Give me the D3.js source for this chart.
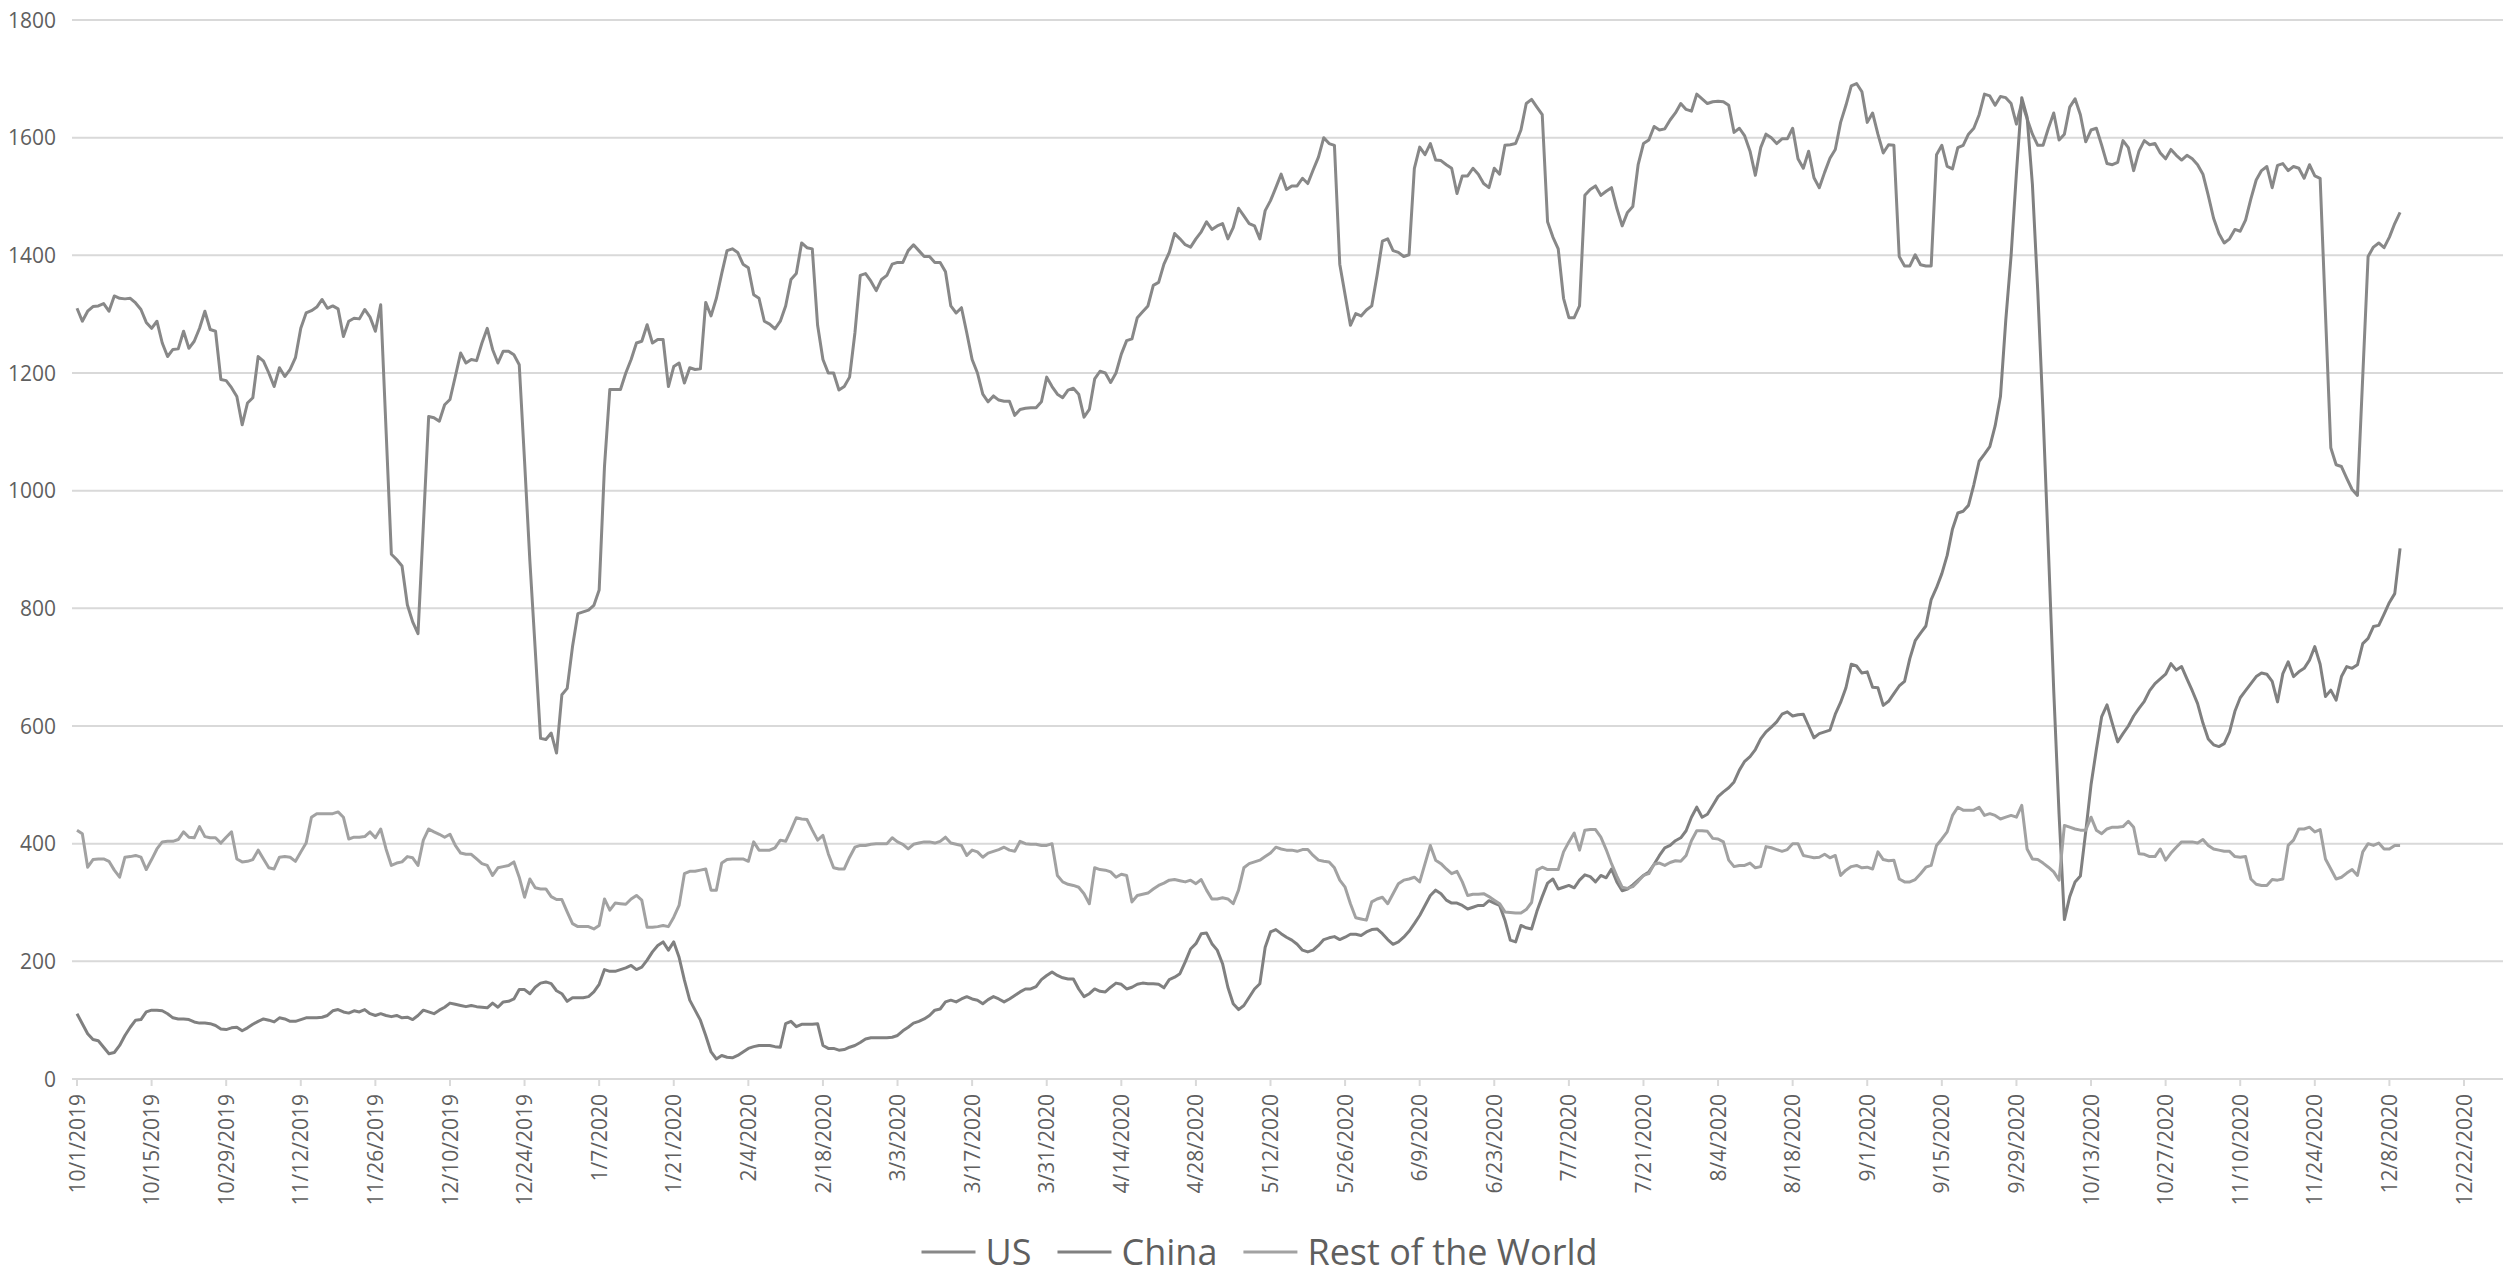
<!DOCTYPE html>
<html>
<head>
<meta charset="utf-8">
<script src="https://cdn.jsdelivr.net/npm/d3@7"></script>
<style>
  body { margin: 0; background: #fff; }
  text { font-family: 'Open Sans', sans-serif; fill: #5f5f5f; }
</style>
</head>
<body>
<script>
var width = 2519,
  height = 1284

// daily series, 10/1/2019 .. 12/10/2020
var firstDay = new Date(2019, 9, 1),
  lastDay = new Date(2020, 11, 10)

var seriesNames = ['US', 'China', 'Rest of the World']
var seriesColors = ['#888888', '#808080', '#a2a2a2']

var usValues = [
  1310, 1288, 1305, 1313, 1314, 1318, 1305,
  1331, 1327, 1326, 1327, 1319, 1308, 1286,
  1276, 1288, 1251, 1228, 1240, 1241, 1271,
  1242, 1254, 1276, 1305, 1274, 1271, 1189,
  1187, 1175, 1160, 1112, 1149, 1158, 1228,
  1220, 1200, 1177, 1209, 1194, 1206, 1226,
  1276, 1302, 1306, 1312, 1325, 1310, 1314,
  1309, 1262, 1288, 1293, 1292, 1308, 1295,
  1271, 1316, 1104, 892, 883, 872, 806,
  777, 757, 940, 1126, 1124, 1118, 1146,
  1155, 1194, 1234, 1217, 1223, 1221, 1251,
  1276, 1240, 1217, 1237, 1237, 1231, 1214,
  1050, 880, 730, 579, 577, 588, 554,
  653, 664, 735, 791, 794, 797, 805,
  831, 1041, 1172, 1172, 1172, 1200, 1223,
  1251, 1254, 1282, 1251, 1257, 1257, 1177,
  1211, 1217, 1183, 1209, 1206, 1207, 1320,
  1297, 1327, 1369, 1408, 1411, 1405, 1385,
  1379, 1333, 1327, 1288, 1283, 1275, 1288,
  1314, 1359, 1369, 1421, 1413, 1411, 1281,
  1223, 1200, 1200, 1171, 1177, 1193, 1268,
  1366, 1369, 1356, 1340, 1359, 1366, 1385,
  1388, 1388, 1408, 1418, 1408, 1398, 1398,
  1388, 1388, 1372, 1314, 1302, 1311, 1268,
  1223, 1200, 1164, 1151, 1161, 1154, 1152,
  1152, 1128, 1138, 1140, 1141, 1141, 1151,
  1193, 1177, 1164, 1158, 1171, 1174, 1164,
  1125, 1138, 1190, 1203, 1200, 1184, 1200,
  1232, 1255, 1258, 1294, 1304, 1314, 1349,
  1354, 1385, 1405, 1437, 1428, 1418, 1414,
  1428, 1440, 1457, 1444, 1450, 1454, 1428,
  1447, 1480, 1467, 1454, 1450, 1428, 1476,
  1493, 1515, 1538, 1512, 1518, 1518, 1531,
  1522, 1545, 1567, 1600, 1590, 1587, 1385,
  1333, 1281, 1301, 1297, 1307, 1314, 1366,
  1424, 1428, 1408, 1405, 1398, 1401, 1548,
  1584, 1571, 1590, 1562, 1561, 1554, 1548,
  1505, 1535, 1535, 1548, 1538, 1522, 1515,
  1548, 1538, 1587, 1588, 1590, 1613, 1658,
  1665, 1652, 1639, 1457, 1431, 1411, 1327,
  1294, 1294, 1314, 1502, 1512, 1518, 1502,
  1509, 1515, 1480, 1450, 1473, 1483, 1554,
  1590, 1596, 1619, 1613, 1615, 1630, 1642,
  1658, 1648, 1645, 1674, 1666, 1658, 1661,
  1662, 1661, 1655, 1609, 1616, 1603, 1577,
  1536, 1583, 1606, 1600, 1590, 1598, 1598,
  1616, 1564, 1548, 1577, 1532, 1515, 1541,
  1565, 1580, 1626, 1655, 1688, 1692, 1678,
  1626, 1642, 1606, 1574, 1588, 1587, 1398,
  1382, 1382, 1401, 1384, 1382, 1382, 1571,
  1587, 1551, 1547, 1583, 1587, 1606, 1616,
  1639, 1674, 1671, 1655, 1670, 1668, 1658,
  1623, 1660, 1632, 1606, 1587, 1587, 1616,
  1642, 1596, 1606, 1652, 1666, 1639, 1593,
  1613, 1616, 1587, 1556, 1554, 1558, 1595,
  1583, 1544, 1577, 1595, 1588, 1590, 1574,
  1564, 1580, 1570, 1562, 1570, 1564, 1554,
  1538, 1502, 1463, 1437, 1421, 1428, 1444,
  1441, 1460, 1496, 1528, 1544, 1551, 1515,
  1553, 1556, 1544, 1551, 1548, 1531, 1554,
  1535, 1531, 1301, 1073, 1044, 1041, 1021,
  1002, 992, 1195, 1398, 1414, 1421, 1413,
  1431, 1454, 1473
]

var chinaValues = [
  111, 94, 77, 67, 65, 54, 43,
  45, 57, 74, 88, 100, 101, 114,
  117, 117, 116, 111, 104, 102, 102,
  101, 97, 95, 95, 94, 91, 85,
  84, 87, 88, 82, 87, 93, 98,
  102, 100, 97, 104, 102, 98, 98,
  101, 104, 104, 104, 105, 108, 116,
  118, 114, 112, 116, 114, 118, 111,
  108, 111, 108, 106, 108, 104, 105,
  101, 108, 117, 114, 111, 117, 122,
  129, 127, 125, 123, 125, 123, 122,
  121, 129, 122, 131, 132, 136, 152,
  152, 145, 156, 163, 165, 162, 150,
  145, 132, 138, 138, 138, 140, 148,
  161, 186, 183, 183, 186, 189, 193,
  186, 190, 202, 216, 227, 233, 219,
  233, 207, 168, 134, 117, 100, 74,
  46, 34, 40, 37, 36, 40, 46,
  52, 55, 57, 57, 57, 55, 54,
  94, 98, 89, 93, 93, 93, 94,
  57, 52, 52, 49, 50, 54, 57,
  62, 68, 70, 70, 70, 70, 71,
  74, 82, 88, 95, 98, 102, 108,
  117, 119, 131, 134, 131, 136, 140,
  136, 134, 128, 135, 140, 136, 131,
  136, 142, 148, 153, 153, 157, 169,
  176, 182, 176, 172, 170, 170, 153,
  140, 145, 153, 149, 148, 156, 163,
  161, 153, 156, 161, 163, 162, 162,
  161, 155, 169, 173, 179, 199, 221,
  230, 247, 248, 230, 219, 196, 156,
  128, 118, 125, 139, 153, 162, 224,
  250, 254, 247, 241, 236, 229, 219,
  216, 219, 227, 237, 240, 242, 237,
  241, 246, 246, 244, 250, 254, 255,
  247, 237, 229, 233, 241, 251, 264,
  278, 295, 312, 321, 315, 304, 299,
  299, 295, 289, 292, 295, 295, 303,
  299, 295, 270, 236, 233, 261, 257,
  255, 285, 310, 333, 340, 323, 326,
  329, 325, 338, 347, 344, 335, 346,
  342, 357, 335, 320, 323, 330, 338,
  346, 352, 365, 380, 393, 397, 405,
  410, 422, 445, 462, 445, 450, 465,
  480, 488, 495, 505, 525, 540, 548,
  560, 578, 590, 598, 607, 620, 624,
  617, 619, 620, 600, 580, 587, 590,
  593, 620, 640, 665, 705, 702, 690,
  692, 666, 665, 635, 642, 655, 668,
  676, 715, 745, 758, 770, 815, 835,
  859, 890, 935, 962, 965, 975, 1010,
  1050, 1062, 1075, 1110, 1160, 1290, 1400,
  1540, 1668, 1635, 1520, 1340, 1130, 900,
  660, 450, 271, 310, 335, 345, 420,
  500, 560, 616, 636, 604, 573, 587,
  600, 617, 630, 642, 660, 672, 680,
  688, 706, 695, 701, 680, 660, 638,
  605, 578, 568, 565, 570, 590, 625,
  648, 660, 672, 684, 690, 688, 676,
  641, 689, 709, 684, 692, 698, 712,
  735, 705, 650, 661, 644, 684, 701,
  698, 704, 740, 749, 769, 771, 790,
  810, 825, 902
]

var restValues = [
  423, 417, 360, 373, 374, 374, 370,
  355, 343, 377, 378, 380, 377, 356,
  373, 391, 403, 404, 404, 407, 420,
  411, 410, 429, 412, 410, 410, 401,
  411, 420, 374, 369, 370, 373, 389,
  374, 359, 357, 377, 378, 377, 370,
  386, 401, 445, 451, 451, 451, 451,
  454, 445, 408, 411, 411, 412, 420,
  410, 425, 391, 363, 367, 369, 378,
  376, 363, 406, 425, 420, 416, 411,
  416, 397, 384, 382, 382, 374, 366,
  363, 346, 359, 361, 363, 369, 343,
  309, 340, 325, 323, 323, 310, 305,
  305, 284, 264, 259, 259, 259, 255,
  261, 306, 287, 299, 298, 297, 306,
  312, 304, 258, 258, 259, 261, 259,
  275, 295, 349, 353, 353, 355, 357,
  321, 321, 367, 373, 374, 374, 374,
  370, 403, 389, 389, 389, 393, 406,
  404, 423, 444, 442, 441, 423, 406,
  414, 383, 359, 357, 357, 377, 394,
  397, 397, 399, 400, 400, 400, 410,
  403, 399, 391, 399, 401, 403, 403,
  401, 404, 411, 401, 399, 397, 380,
  389, 386, 377, 384, 387, 390, 394,
  389, 387, 404, 400, 399, 399, 397,
  397, 400, 346, 335, 331, 329, 326,
  315, 298, 359, 356, 355, 352, 343,
  348, 346, 301, 312, 314, 316, 323,
  329, 333, 338, 339, 337, 335, 338,
  332, 339, 321, 306, 306, 308, 306,
  298, 321, 359, 366, 369, 372, 378,
  384, 394, 391, 389, 389, 387, 390,
  390, 380, 372, 370, 369, 359, 338,
  326, 298, 274, 272, 270, 301, 306,
  309, 298, 315, 332, 338, 340, 343,
  335, 366, 397, 372, 366, 357, 349,
  353, 335, 312, 314, 314, 315, 310,
  304, 298, 284, 283, 282, 282, 288,
  300, 355, 360, 356, 356, 356, 386,
  403, 418, 389, 423, 424, 424, 411,
  390, 366, 345, 326, 324, 327, 336,
  346, 349, 365, 367, 363, 368, 371,
  370, 380, 405, 422, 422, 421, 409,
  408, 403, 372, 361, 363, 363, 367,
  359, 361, 395, 393, 390, 387, 390,
  400, 400, 380, 378, 376, 377, 382,
  376, 380, 346, 355, 361, 363, 359,
  360, 357, 386, 373, 371, 372, 340,
  335, 335, 339, 349, 360, 363, 397,
  408, 420, 448, 462, 457, 457, 457,
  462, 448, 451, 448, 442, 445, 448,
  445, 465, 391, 374, 373, 367, 360,
  352, 338, 431, 428, 425, 423, 423,
  445, 423, 417, 425, 428, 428, 429,
  438, 428, 383, 382, 378, 378, 391,
  372, 384, 394, 403, 403, 403, 401,
  407, 397, 391, 389, 387, 387, 378,
  377, 378, 340, 331, 329, 329, 339,
  338, 340, 397, 406, 425, 425, 428,
  420, 424, 374, 357, 340, 343, 350,
  356, 346, 386, 400, 397, 401, 391,
  391, 397, 397
]

var yTicks = [0, 200, 400, 600, 800, 1000, 1200, 1400, 1600, 1800]
// date axis ticks every two weeks
var firstTick = new Date(2019, 9, 1),
  lastTick = new Date(2020, 11, 22)

var plotLeft = 72,
  plotRight = 2503

var dates = d3.timeDay.range(firstDay, d3.timeDay.offset(lastDay, 1))
var series = [usValues, chinaValues, restValues].map(function (values, i) {
  return {
    name: seriesNames[i],
    color: seriesColors[i],
    points: values.map(function (v, j) { return {date: dates[j], value: v} })
  }
})

var x = d3.scaleTime()
  .domain([firstTick, lastTick])
  .range([77, 2464])

var y = d3.scaleLinear()
  .domain([0, 1800])
  .range([1079, 20])

var svg = d3.select('body').append('svg')
  .attr('width', width)
  .attr('height', height)

svg.append('rect')
  .attr('width', width)
  .attr('height', height)
  .attr('fill', '#fff')

// horizontal gridlines
svg.append('g').selectAll('line')
  .data(yTicks)
  .enter().append('line')
  .attr('x1', plotLeft)
  .attr('x2', plotRight)
  .attr('y1', function (d) { return y(d) })
  .attr('y2', function (d) { return y(d) })
  .attr('stroke', '#d9d9d9')
  .attr('stroke-width', 2)

svg.append('g').selectAll('text')
  .data(yTicks)
  .enter().append('text')
  .attr('x', 56)
  .attr('y', function (d) { return y(d) })
  .attr('dy', '0.36em')
  .attr('text-anchor', 'end')
  .style('font-size', '21px')
  .text(function (d) { return d })

var xTicks = d3.timeDay.range(firstTick, d3.timeDay.offset(lastTick, 1), 14)
var fmt = d3.timeFormat('%-m/%-d/%Y')

var xAxis = svg.append('g')
xAxis.selectAll('line')
  .data(xTicks)
  .enter().append('line')
  .attr('x1', function (d) { return x(d) })
  .attr('x2', function (d) { return x(d) })
  .attr('y1', y(0))
  .attr('y2', y(0) + 7)
  .attr('stroke', '#d9d9d9')
  .attr('stroke-width', 2)

xAxis.selectAll('text')
  .data(xTicks)
  .enter().append('text')
  .attr('transform', function (d) { return 'translate(' + x(d) + ',1094) rotate(-90)' })
  .attr('dy', '0.36em')
  .attr('text-anchor', 'end')
  .style('font-size', '21px')
  .text(fmt)

var line = d3.line()
  .x(function (d) { return x(d.date) })
  .y(function (d) { return y(d.value) })

svg.append('g').selectAll('path')
  .data(series)
  .enter().append('path')
  .attr('d', function (d) { return line(d.points) })
  .attr('fill', 'none')
  .attr('stroke', function (d) { return d.color })
  .attr('stroke-width', 3)
  .attr('stroke-linejoin', 'round')

// legend, centred under the chart
var legend = svg.append('g')
var item = legend.selectAll('g')
  .data(series)
  .enter().append('g')

item.append('line')
  .attr('x1', 0)
  .attr('x2', 54)
  .attr('y1', 0)
  .attr('y2', 0)
  .attr('stroke', function (d) { return d.color })
  .attr('stroke-width', 3)

item.append('text')
  .attr('x', 64)
  .attr('dy', '0.36em')
  .style('font-size', '36px')
  .text(function (d) { return d.name })

var offset = 0
item.attr('transform', function () {
  var w = 64 + this.querySelector('text').getComputedTextLength()
  var t = 'translate(' + offset + ',0)'
  offset += w + 26
  return t
})
legend.attr('transform', 'translate(' + (width / 2 - (offset - 26) / 2) + ',1252)')
</script>
</body>
</html>
